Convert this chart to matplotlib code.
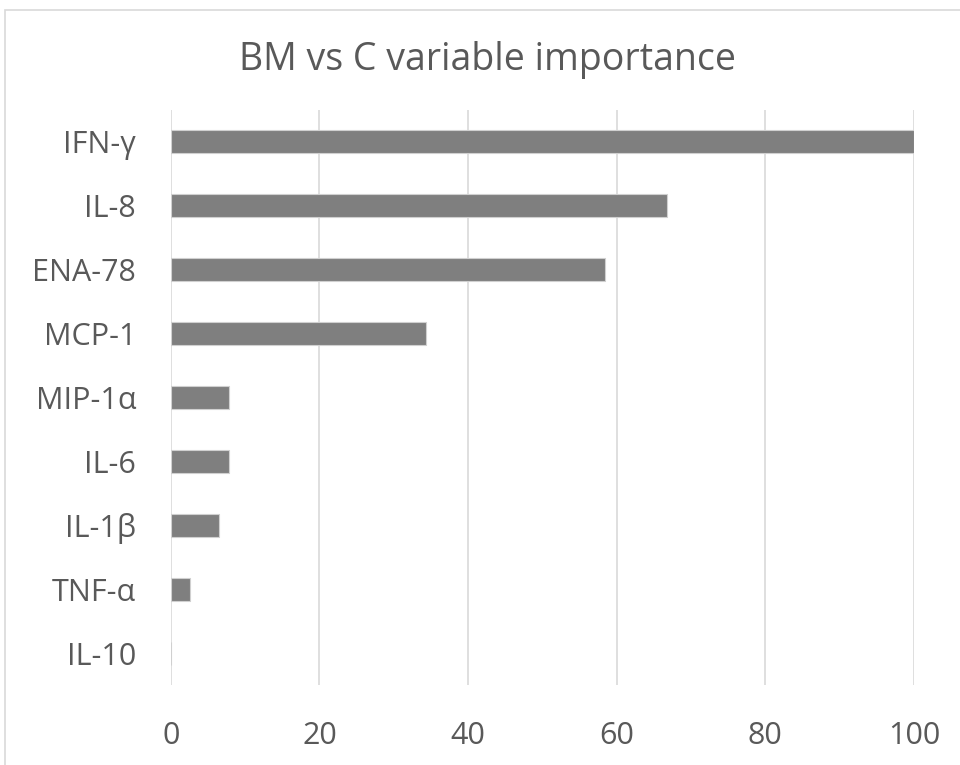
import matplotlib.pyplot as plt
from matplotlib.patches import Rectangle

categories = ["IFN-γ", "IL-8", "ENA-78", "MCP-1", "MIP-1α", "IL-6", "IL-1β", "TNF-α", "IL-10"]
importance = [100, 66.8, 58.4, 34.3, 7.8, 7.8, 6.5, 2.6, 0]
x_ticks = [0, 20, 40, 60, 80, 100]

text_color = "#595959"
plt.rcParams['font.family'] = ['Open Sans', 'DejaVu Sans']

fig = plt.figure(figsize=(9.6, 7.65), dpi=100)
ax = fig.add_axes([0.178, 0.1046, 0.774, 0.7516])

# outer chart border
fig.patches.append(Rectangle((5 / 960, -0.01), 1.0, 1 - 10 / 765 + 0.01,
                             transform=fig.transFigure, fill=False,
                             edgecolor="#d9d9d9", linewidth=1.2))

pos = list(range(len(categories)))
ax.barh(pos, importance, height=0.36, color="#7f7f7f", edgecolor="#d0d0d0",
        linewidth=0.8, zorder=3)

ax.set_xlim(0, 100)
ax.set_ylim(len(categories) - 0.5, -0.5)
ax.set_xticks(x_ticks)
ax.set_yticks(pos)
ax.set_yticklabels(categories)
ax.grid(axis="x", color="#d9d9d9", linewidth=1.2, zorder=0)
ax.tick_params(axis="both", length=0, labelsize=22, labelcolor=text_color)
ax.tick_params(axis="x", pad=26)
ax.tick_params(axis="y", pad=25)
for s in ax.spines.values():
    s.set_visible(False)

fig.text(0.508, 0.922, "BM vs C variable importance", ha="center", va="center",
         fontsize=27, color=text_color)

fig.savefig("out.png", dpi=100)
